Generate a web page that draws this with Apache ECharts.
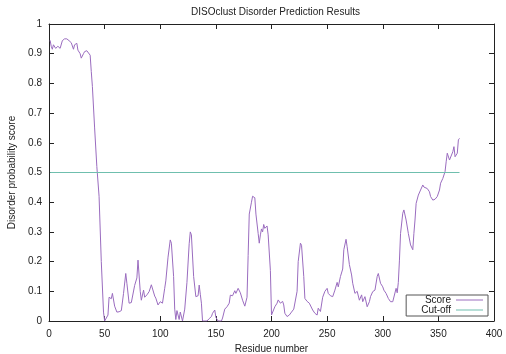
<!DOCTYPE html>
<html>
<head>
<meta charset="utf-8">
<script src="https://cdn.jsdelivr.net/npm/echarts@6/dist/echarts.min.js"></script>
<style>
  html, body { margin: 0; padding: 0; background: #fff; }
  #chart { width: 506px; height: 354px; }
</style>
</head>
<body>
<div id="chart"></div>
<script>
// values
const residues = [
  1, 2, 3, 4, 5, 6, 8, 10, 12, 14, 16, 18, 20, 22, 23, 25, 26, 28, 29, 31, 32, 34, 35, 37, 38, 39, 41, 43, 45, 47, 49,
  50, 51, 53, 54, 56, 57, 59, 61, 63, 65, 67, 69, 70, 72, 74, 75, 77, 79, 80, 82, 83, 85, 86, 88, 90, 92, 93, 95, 96, 98,
  100, 101, 102, 104, 105, 107, 109, 110, 112, 113, 114, 115, 117, 118, 120, 122, 124, 126, 127, 128, 130, 132, 134, 135,
  136, 137, 138, 142, 144, 146, 147, 148, 149, 150, 152, 155, 156, 158, 160, 162, 163, 165, 167, 168, 170, 172, 174, 176,
  178, 179, 180, 182, 183, 185, 186, 188, 189, 190, 191, 192, 193, 194, 196, 197, 199, 200, 201, 203, 205, 206, 208, 210,
  211, 212, 214, 216, 218, 220, 221, 223, 224, 226, 227, 229, 230, 232, 234, 235, 237, 239, 241, 242, 244, 246, 248, 250,
  251, 253, 255, 257, 259, 260, 262, 264, 265, 267, 268, 270, 272, 273, 275, 277, 279, 281, 282, 284, 286, 288, 289, 291,
  293, 295, 296, 298, 300, 301, 303, 305, 307, 309, 310, 312, 313, 314, 315, 316, 318, 319, 321, 323, 325, 327, 328, 329,
  330, 332, 333, 334, 336, 337, 338, 340, 341, 342, 343, 345, 347, 349, 351, 352, 354, 356, 357, 358, 360, 361, 363, 364,
  365, 367, 368, 369
];
const scores = [
  0.945, 0.925, 0.915, 0.93, 0.925, 0.918, 0.925, 0.918, 0.944, 0.95, 0.95, 0.944, 0.937, 0.915, 0.93, 0.935, 0.912, 0.9, 0.885, 0.9, 0.907, 0.91, 0.915, 0.895, 0.84, 0.79, 0.65, 0.52, 0.42, 0.2, 0.03,
  0.0, 0.0, 0.02, 0.08, 0.075, 0.093, 0.05, 0.03, 0.031, 0.035, 0.093, 0.16, 0.127, 0.06, 0.062, 0.065, 0.12, 0.145, 0.205, 0.1, 0.07, 0.104, 0.08, 0.088, 0.099, 0.122, 0.118, 0.084, 0.077, 0.054,
  0.065, 0.07, 0.06, 0.11, 0.135, 0.215, 0.273, 0.262, 0.15, 0.04, 0.005, 0.035, 0.005, 0.03, 0.0, 0.04, 0.13, 0.26, 0.3, 0.29, 0.15, 0.082, 0.085, 0.121,
  0.09, 0.06, 0.0, 0.0, 0.008, 0.015, 0.026, 0.02, 0.037, 0.012, 0.0, 0.0, 0.01, 0.04, 0.048, 0.06, 0.087, 0.085, 0.102, 0.093, 0.11, 0.095, 0.07, 0.05,
  0.08, 0.22, 0.36, 0.4, 0.42, 0.415, 0.36, 0.295, 0.262, 0.29, 0.31, 0.3, 0.325, 0.312, 0.32, 0.29, 0.17, 0.02, 0.015, 0.048, 0.06, 0.071, 0.06, 0.066,
  0.054, 0.026, 0.015, 0.02, 0.03, 0.04, 0.045, 0.1, 0.2, 0.262, 0.255, 0.15, 0.076, 0.066, 0.06, 0.054, 0.037, 0.026, 0.02, 0.043, 0.032, 0.08, 0.1, 0.11,
  0.093, 0.085, 0.082, 0.104, 0.13, 0.115, 0.15, 0.175, 0.24, 0.275, 0.25, 0.19, 0.155, 0.127, 0.093, 0.1, 0.07, 0.088, 0.065, 0.082, 0.048, 0.065, 0.082, 0.099,
  0.104, 0.15, 0.16, 0.127, 0.115, 0.104, 0.093, 0.076, 0.065, 0.065, 0.071, 0.11, 0.095, 0.13, 0.205, 0.295, 0.363, 0.374, 0.34, 0.295, 0.256, 0.24, 0.295, 0.34,
  0.396, 0.424, 0.424, 0.441, 0.458, 0.451, 0.446, 0.446, 0.451, 0.435, 0.419, 0.407, 0.41, 0.419, 0.441, 0.464, 0.48, 0.503, 0.536, 0.565, 0.542, 0.543, 0.57, 0.587,
  0.553, 0.565, 0.61, 0.615
];
const cutoffX = [1, 369];
const cutoffY = [0.5, 0.5];

const font = 'Liberation Sans, Arial, sans-serif';
const ink = '#222';

const chart = echarts.init(document.getElementById('chart'), null, { renderer: 'canvas' });

const tick = { show: true, inside: true, length: 5, lineStyle: { color: ink, width: 1 } };
const line = { show: true, onZero: false, lineStyle: { color: ink, width: 1 } };

chart.setOption({
  animation: false,
  backgroundColor: '#fff',
  textStyle: { fontFamily: font },
  title: {
    text: 'DISOclust Disorder Prediction Results',
    left: 186,
    top: 2,
    textStyle: { fontFamily: font, fontSize: 10, fontWeight: 'normal', color: ink }
  },
  grid: { left: 49, right: 12, top: 24, bottom: 33, outerBoundsMode: 'none', containLabel: false },
  legend: {
    right: 18,
    bottom: 38,
    orient: 'vertical',
    align: 'right',
    icon: 'rect',
    itemWidth: 27,
    itemHeight: 1,
    itemGap: 0,
    padding: [0, 5, 1, 15],
    borderColor: '#555',
    borderWidth: 1,
    backgroundColor: '#fff',
    textStyle: { fontFamily: font, fontSize: 10, color: ink, lineHeight: 10 },
    data: ['Score', 'Cut-off']
  },
  xAxis: [{
    type: 'value',
    min: 0,
    max: 400,
    interval: 50,
    name: 'Residue number',
    nameLocation: 'middle',
    nameGap: 20,
    nameTextStyle: { fontFamily: font, fontSize: 10, color: ink },
    axisLine: line,
    axisTick: tick,
    axisLabel: { color: ink, fontSize: 10, margin: 8, fontFamily: font },
    splitLine: { show: false }
  }, {
    type: 'value',
    position: 'top',
    min: 0,
    max: 400,
    interval: 50,
    axisLine: line,
    axisTick: tick,
    axisLabel: { show: false },
    splitLine: { show: false }
  }],
  yAxis: [{
    type: 'value',
    min: 0,
    max: 1,
    interval: 0.1,
    name: 'Disorder probability score',
    nameLocation: 'middle',
    nameGap: 31,
    nameTextStyle: { fontFamily: font, fontSize: 10, color: ink },
    axisLine: line,
    axisTick: tick,
    axisLabel: { color: ink, fontSize: 10, margin: 7, fontFamily: font },
    splitLine: { show: false }
  }, {
    type: 'value',
    position: 'right',
    min: 0,
    max: 1,
    interval: 0.1,
    axisLine: line,
    axisTick: tick,
    axisLabel: { show: false },
    splitLine: { show: false }
  }],
  series: [{
    name: 'Score',
    type: 'line',
    symbol: 'none',
    data: residues.map((r, i) => [r, scores[i]]),
    lineStyle: { color: '#9a6cbf', width: 1 },
    itemStyle: { color: '#9a6cbf' }
  }, {
    name: 'Cut-off',
    type: 'line',
    symbol: 'none',
    data: cutoffX.map((x, i) => [x, cutoffY[i]]),
    lineStyle: { color: '#6fbfae', width: 1 },
    itemStyle: { color: '#6fbfae' }
  }]
});
</script>
</body>
</html>
